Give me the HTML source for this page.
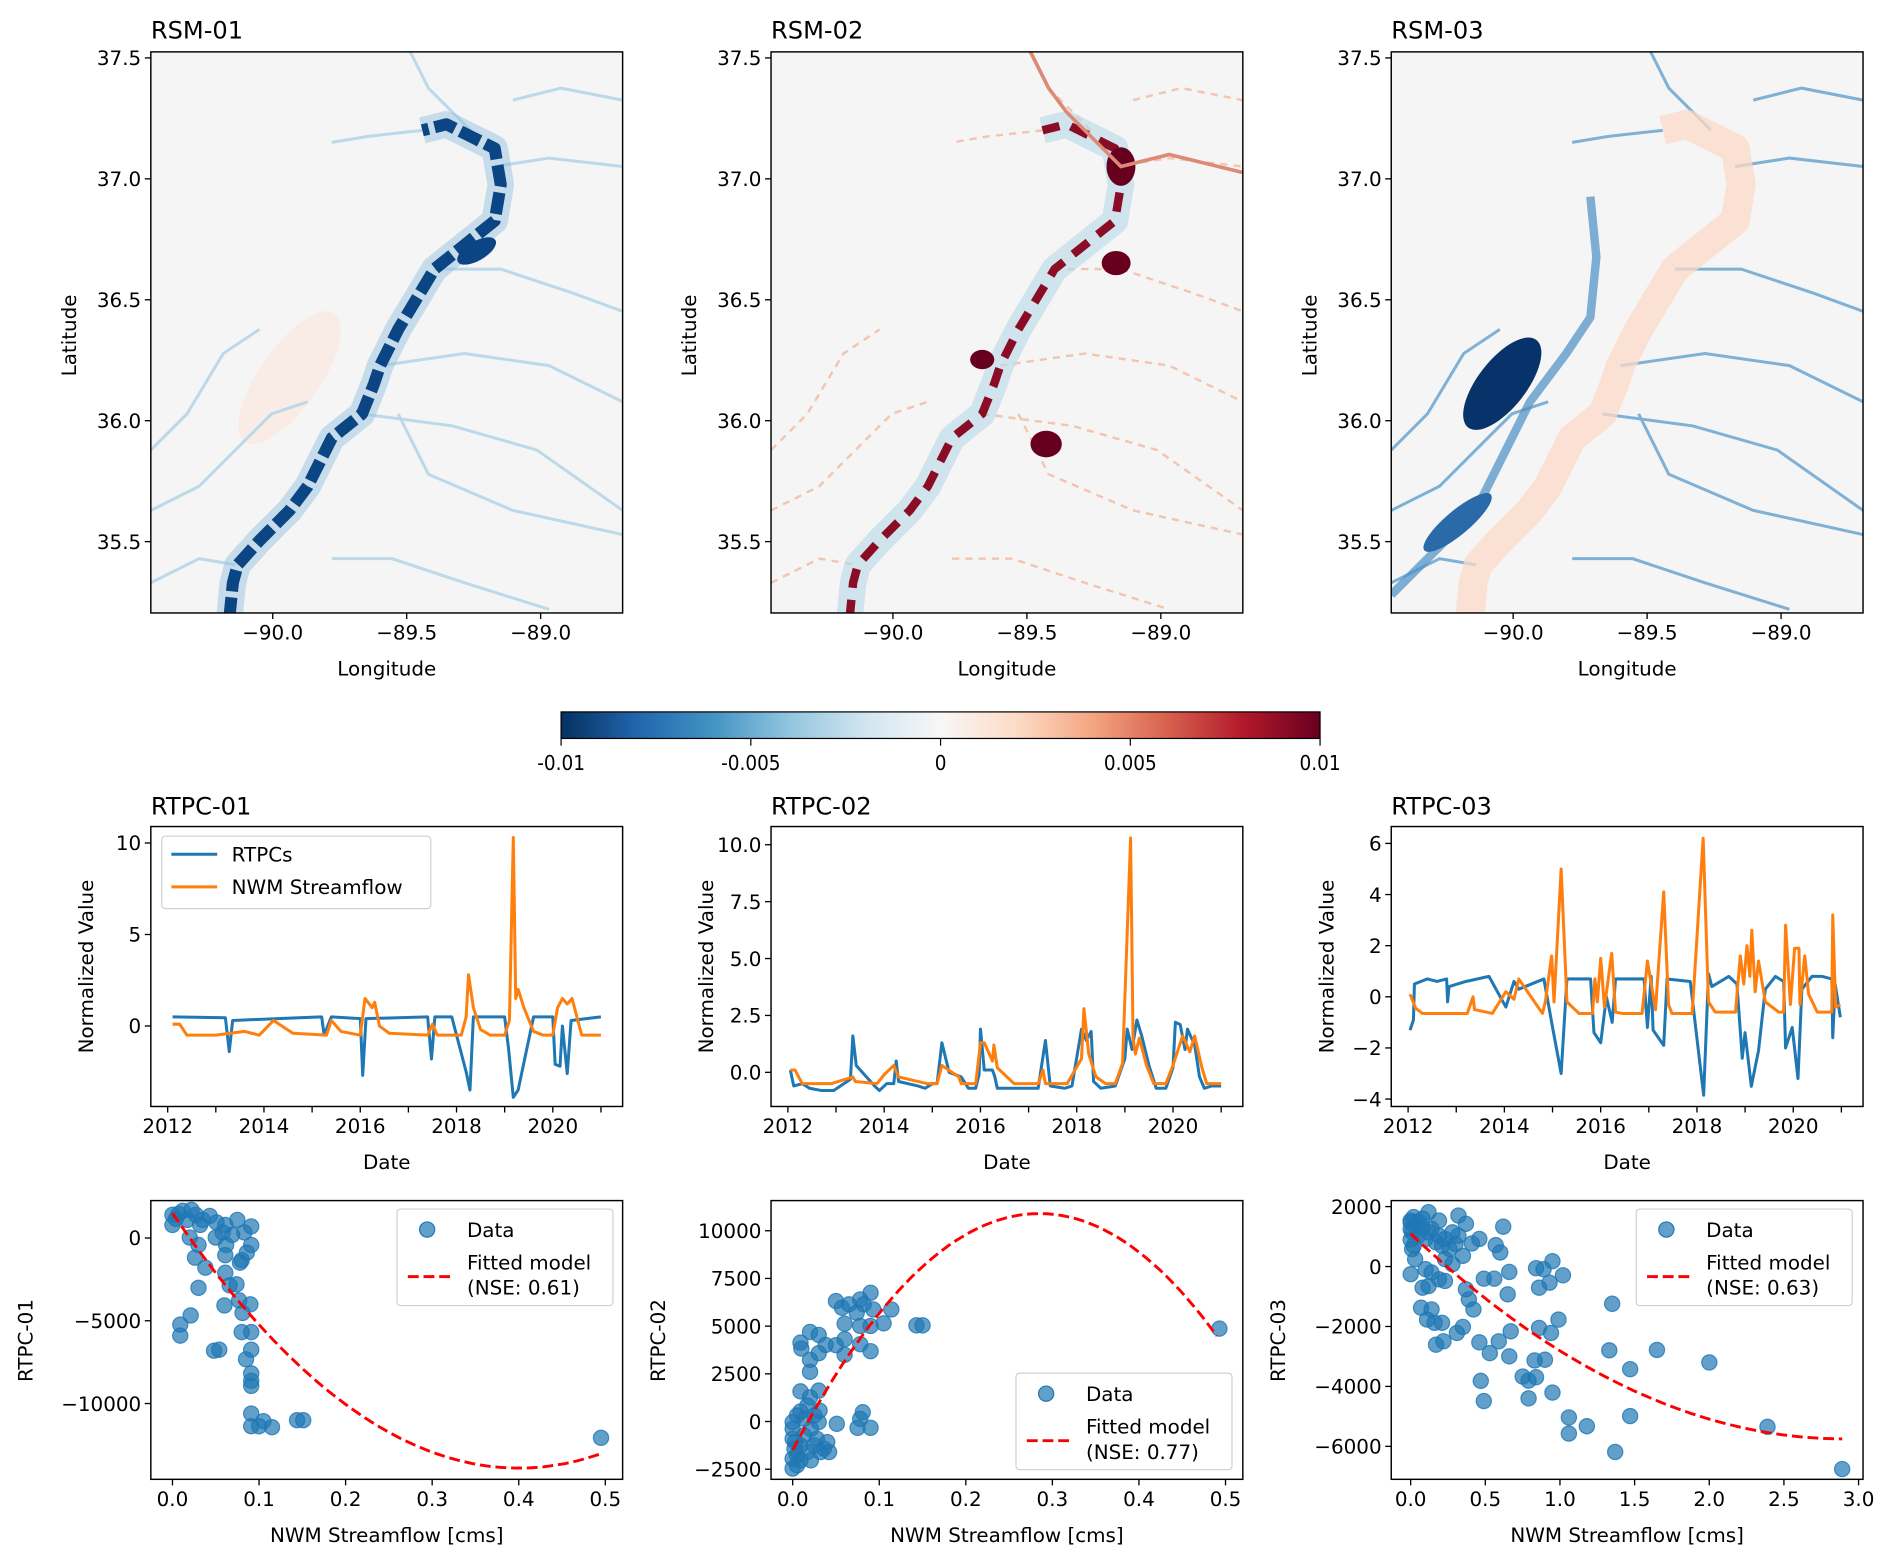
<!DOCTYPE html>
<html><head><meta charset="utf-8"><title>RSM / RTPC figure</title>
<style>
html,body{margin:0;padding:0;background:#fff;}
svg{display:block;}
text{font-family:"DejaVu Sans","Liberation Sans",sans-serif;fill:#000;}
</style></head>
<body>
<svg id="fig" xmlns="http://www.w3.org/2000/svg" width="1892" height="1565" viewBox="0 0 1568 1297" preserveAspectRatio="none">
<defs>
<linearGradient id="rdbu" x1="0" x2="1" y1="0" y2="0">
<stop offset="0" stop-color="#053061"/><stop offset="0.1" stop-color="#2166ac"/><stop offset="0.2" stop-color="#4393c3"/><stop offset="0.3" stop-color="#92c5de"/><stop offset="0.4" stop-color="#d1e5f0"/><stop offset="0.5" stop-color="#f7f7f7"/><stop offset="0.6" stop-color="#fddbc7"/><stop offset="0.7" stop-color="#f4a582"/><stop offset="0.8" stop-color="#d6604d"/><stop offset="0.9" stop-color="#b2182b"/><stop offset="1" stop-color="#67001f"/>
</linearGradient>
<clipPath id="clipMap"><rect x="0" y="0" width="391" height="465"/></clipPath>
</defs>
</svg>
<script>
// ---------------- DATA ----------------
const ts1BlueT = [2012.1,2013.2,2013.28,2013.35,2015.2,2015.25,2015.4,2016.0,2016.05,2016.12,2017.4,2017.48,2017.55,2017.9,2018.2,2018.28,2018.35,2019.0,2019.08,2019.18,2019.28,2019.4,2019.6,2020.0,2020.05,2020.15,2020.2,2020.3,2020.38,2021.0];
const ts1BlueV = [0.5,0.45,-1.4,0.3,0.5,-0.5,0.5,0.4,-2.7,0.4,0.5,-1.8,0.5,0.5,-2.5,-3.5,0.5,0.5,-1.2,-3.9,-3.5,-2.0,0.5,0.5,-2.1,-2.2,0.0,-2.6,0.3,0.5];
const ts1OrangeT = [2012.1,2012.25,2012.4,2013.0,2013.6,2013.9,2014.2,2014.6,2015.3,2015.4,2015.6,2016.0,2016.1,2016.25,2016.3,2016.4,2016.6,2017.4,2017.5,2017.6,2018.1,2018.2,2018.25,2018.35,2018.5,2018.7,2019.0,2019.1,2019.18,2019.23,2019.28,2019.4,2019.6,2019.8,2020.0,2020.1,2020.2,2020.3,2020.4,2020.6,2021.0];
const ts1OrangeV = [0.1,0.1,-0.5,-0.5,-0.3,-0.5,0.3,-0.4,-0.5,0.3,-0.3,-0.5,1.5,1.0,1.3,0.0,-0.4,-0.5,0.1,-0.5,-0.5,0.5,2.8,1.0,-0.2,-0.5,-0.5,0.3,10.3,1.5,2.0,1.0,-0.3,-0.5,-0.5,1.0,1.5,1.2,1.5,-0.5,-0.5];
const ts2BlueT = [2012.05,2012.12,2012.3,2012.45,2012.7,2012.95,2013.3,2013.35,2013.42,2013.8,2013.9,2014.05,2014.2,2014.25,2014.3,2014.7,2014.85,2015.0,2015.1,2015.2,2015.35,2015.6,2015.75,2015.9,2015.97,2016.0,2016.08,2016.25,2016.3,2016.35,2016.9,2017.2,2017.35,2017.45,2017.75,2017.9,2018.1,2018.2,2018.3,2018.35,2018.5,2018.8,2019.0,2019.05,2019.15,2019.25,2019.35,2019.5,2019.65,2019.85,2020.0,2020.05,2020.15,2020.25,2020.3,2020.45,2020.55,2020.65,2020.8,2021.0];
const ts2BlueV = [0.1,-0.6,-0.5,-0.7,-0.8,-0.8,-0.3,1.6,0.3,-0.6,-0.8,-0.5,-0.5,0.5,-0.4,-0.6,-0.7,-0.5,-0.5,1.3,0.0,-0.2,-0.7,-0.7,-0.1,1.9,0.1,0.1,-0.2,-0.7,-0.7,-0.7,1.4,-0.6,-0.7,-0.6,1.9,1.4,1.8,-0.4,-0.7,-0.6,0.6,1.9,1.0,2.3,1.6,0.3,-0.7,-0.7,0.2,2.2,2.1,1.0,1.9,1.2,-0.2,-0.7,-0.6,-0.6];
const ts2OrangeT = [2012.05,2012.15,2012.3,2012.9,2013.35,2013.4,2013.85,2014.0,2014.2,2014.3,2014.9,2015.1,2015.2,2015.55,2015.6,2015.9,2016.0,2016.08,2016.25,2016.28,2016.35,2016.5,2016.7,2017.2,2017.3,2017.35,2017.8,2018.1,2018.15,2018.25,2018.4,2018.6,2018.8,2018.95,2019.12,2019.17,2019.22,2019.3,2019.45,2019.6,2019.85,2020.0,2020.2,2020.35,2020.45,2020.6,2020.7,2021.0];
const ts2OrangeV = [0.1,0.1,-0.5,-0.5,-0.2,-0.4,-0.5,-0.1,0.3,-0.2,-0.5,-0.5,0.3,-0.2,-0.5,-0.5,1.3,1.3,0.5,1.2,0.2,-0.1,-0.5,-0.5,0.1,-0.5,-0.5,0.6,2.8,0.8,-0.2,-0.5,-0.5,0.4,10.3,1.5,0.8,1.5,0.3,-0.5,-0.5,0.3,1.6,0.9,1.6,0.2,-0.5,-0.5];
const ts3BlueT = [2012.04,2012.11,2012.13,2012.4,2012.6,2012.8,2012.82,2012.85,2013.2,2013.68,2014.03,2014.2,2014.3,2014.82,2015.0,2015.18,2015.3,2015.79,2015.86,2016.0,2016.12,2016.24,2016.31,2016.9,2016.97,2017.05,2017.09,2017.31,2017.38,2017.86,2018.14,2018.24,2018.31,2018.66,2018.83,2018.94,2019.0,2019.13,2019.28,2019.42,2019.63,2019.8,2019.84,2019.98,2020.1,2020.18,2020.39,2020.6,2020.8,2020.82,2020.87,2020.98];
const ts3BlueV = [-1.3,-0.9,0.5,0.7,0.6,0.7,-0.2,0.4,0.6,0.8,-0.4,0.6,0.3,0.7,-1.2,-3.0,0.7,0.7,-1.4,-1.8,0.0,-1.0,0.7,0.7,-1.2,0.8,-1.3,-1.9,0.7,0.6,-3.85,0.9,0.4,0.8,0.5,-2.4,-1.4,-3.5,-2.1,0.3,0.8,0.6,-2.0,-1.2,-3.2,0.3,0.8,0.8,0.7,-1.6,0.5,-0.8];
const ts3OrangeT = [2012.04,2012.16,2012.3,2013.23,2013.35,2013.38,2013.75,2014.03,2014.2,2014.3,2014.79,2014.85,2014.98,2015.03,2015.18,2015.3,2015.55,2015.83,2015.88,2015.93,2016.0,2016.08,2016.23,2016.31,2016.45,2016.86,2016.97,2017.14,2017.31,2017.41,2017.48,2017.9,2018.13,2018.24,2018.38,2018.8,2018.9,2018.97,2019.04,2019.1,2019.14,2019.21,2019.28,2019.42,2019.7,2019.8,2019.84,2019.94,2020.03,2020.12,2020.14,2020.24,2020.32,2020.5,2020.8,2020.82,2020.88,2020.98];
const ts3OrangeV = [0.1,-0.45,-0.65,-0.65,0.0,-0.5,-0.65,0.2,-0.1,0.7,-0.65,-0.2,1.6,-0.2,5.0,-0.2,-0.65,-0.65,0.7,-0.2,1.5,-0.4,1.7,-0.6,-0.65,-0.65,1.4,-0.5,4.1,-0.3,-0.65,-0.65,6.2,-0.2,-0.6,-0.6,1.6,0.5,2.0,0.8,2.6,0.2,1.4,-0.2,-0.6,-0.6,2.8,-0.3,1.9,1.9,-0.3,1.6,0.1,-0.6,-0.6,3.2,-0.4,-0.3];
const sc1X = [0,0.012,0.027,0.043,0,0.017,0.032,0.051,0.061,0.075,0.091,0.083,0.069,0.05,0.091,0.086,0.08,0.078,0.062,0.061,0.02,0.03,0.026,0.038,0.03,0.061,0.066,0.074,0.06,0.077,0.09,0.081,0.021,0.009,0.009,0.08,0.091,0.048,0.054,0.091,0.085,0.091,0.091,0.091,0.091,0.091,0.105,0.115,0.1,0.144,0.151,0.495,0.004,0.007,0.022,0.035,0.058];
const sc1Y = [1398,1641,1398,1337,790,1094,790,942,790,1094,699,334,182,30,-426,-882,-1338,-1490,-426,-1034,30,-426,-1186,-1794,-3010,-2098,-2858,-2797,-4074,-3770,-4013,-4530,-4682,-5229,-5898,-5685,-5685,-6810,-6749,-6749,-7326,-8178,-8634,-8938,-10610,-11370,-11066,-11430,-11370,-11005,-11005,-12069,1155,1459,1702,1094,334];
const sc2X = [0.05,0.057,0.065,0.078,0.09,0.082,0.093,0.114,0.105,0.074,0.06,0.078,0.09,0.02,0.03,0.009,0.01,0.038,0.05,0.06,0.078,0.06,0.09,0.03,0.02,0.02,0.143,0.15,0.493,0.009,0.03,0.02,0.009,0.031,0.051,0.081,0.078,0.075,0.09,0,0,0.002,0,0,0.005,0.009,0.013,0.017,0.021,0.025,0.028,0.032,0.036,0.04,0.042,0.03,0.021,0.013,0.005,0.005,0.009,0,0.003,0.025,0.017];
const sc2Y = [6313,5965,6139,6400,6747,6139,5878,5878,5147,5704,5130,5008,5008,4695,4539,4139,3826,4017,4000,4313,4052,3495,3687,3582,3234,2608,5043,5043,4869,1582,1617,1269,522,574,-122,487,139,-330,-330,-2470,-1948,-1426,-904,-383,-1774,-1252,-730,-1600,-2035,-1252,-904,-1600,-1426,-1078,-1600,-35,-383,139,313,-2296,-2035,-35,-1078,313,835];
const sc3X = [0,0.12,0.19,0.32,0.37,0.62,0.46,0.41,0.57,0.6,0,0.08,0.07,0.14,0.11,0.16,0.21,0.17,0.22,0.31,0.35,0.42,0.46,0.53,0.59,0.67,0.66,0.65,0.66,0.56,0.49,0.84,0.89,0.95,1.02,0.93,0.86,0.99,0.86,0.94,0.83,0.9,0.75,0.79,0.84,0.47,0.49,0.79,0.95,1.06,1.06,1.18,1.47,1.33,1.35,1.65,2.0,1.47,1.37,2.39,2.89,0,0,0.01,0.03,0.05,0.08,0.1,0.12,0.14,0.17,0.19,0.21,0.23,0.26,0.28,0.3,0.32,0.35,0.23,0.28,0.01,0.03,0.1,0.14,0.19,0.23,0.12,0.37,0.39,0.02,0.05,0.08,0,0.02];
const sc3Y = [1477,1813,1533,1701,1421,1332,918,772,716,470,-257,-705,-1376,-1432,-1768,-1880,-1880,-2607,-2495,-2216,-2014,-1432,-2529,-2887,-2495,-2160,-2999,-929,-179,-403,-403,-56,-90,179,-291,-537,-705,-1768,-2048,-2216,-3133,-3111,-3670,-3805,-3693,-3816,-4487,-4398,-4207,-5036,-5573,-5327,-3424,-2798,-1242,-2786,-3200,-4991,-6188,-5349,-6759,1530,1250,1140,1365,1030,1310,918,1141,1253,806,1029,694,918,582,1141,750,1029,358,246,78,582,246,-90,-201,-425,-481,-649,-761,-1097,1650,1500,1600,900,700];
const fit1 = {a:96250, h:0.4, k:-13900, x0:0, x1:0.495};
const fit2 = {a:-152700, h:0.285, k:10900, x0:0, x1:0.49};
const fit3 = {a:814, h:2.9, k:-5750, x0:0, x1:2.89};
const lonTicks = [-90.0,-89.5,-89.0];
const latTicks = [37.5,37.0,36.5,36.0,35.5];
const yearTicks = [2012,2014,2016,2018,2020];
const yearMinor = [2013,2015,2017,2019,2021];
const ts1YTicks = [10,5,0];
const ts2YTicks = [10.0,7.5,5.0,2.5,0.0];
const ts3YTicks = [6,4,2,0,-2,-4];
const sc1XTicks = [0.0,0.1,0.2,0.3,0.4,0.5];
const sc1YTicks = [0,-5000,-10000];
const sc2YTicks = [10000,7500,5000,2500,0,-2500];
const sc3XTicks = [0.0,0.5,1.0,1.5,2.0,2.5,3.0];
const sc3YTicks = [2000,0,-2000,-4000,-6000];
const cbTicks = [-0.01,-0.005,0,0.005,0.01];
const cbLabels = ["-0.01","-0.005","0","0.005","0.01"];

// ---------------- HELPERS ----------------
const NS = "http://www.w3.org/2000/svg";
const svg = document.getElementById('fig');
const TICK_FS = 16.5, LABEL_FS = 16.5, TITLE_FS = 20, LEG_FS = 16.5;
function mk(tag, attrs, parent){
  const e = document.createElementNS(NS, tag);
  for (const k in attrs) e.setAttribute(k, attrs[k]);
  (parent||svg).appendChild(e);
  return e;
}
function tx(x,y,s,size,anchor,parent,extra){
  const t = mk('text',Object.assign({x:x,y:y,'font-size':size,'text-anchor':anchor||'middle'},extra||{}),parent);
  t.textContent = s;
  return t;
}
function fmt(v,dec){ const s = Math.abs(v).toFixed(dec); return (v<0?'\u2212':'')+s; }
function scale(d0,d1,r0,r1){ return v => r0 + (v-d0)/(d1-d0)*(r1-r0); }

function frame(g,x0,y0,w,h){
  const r = mk('rect',{x:x0,y:y0,width:w,height:h,fill:'none',stroke:'#000','stroke-width':1.2},g);
  
  
}
function xTicks(g,vals,sx,yb,labels,minor){
  vals.forEach((v,i)=>{
    const x = sx(v);
    const l = mk('line',{x1:x,x2:x,y1:yb,y2:yb+5,stroke:'#000','stroke-width':1.1},g);
    
    
    const t = tx(x,yb+22,labels[i],TICK_FS,'middle',g);
    
    
  });
  (minor||[]).forEach(v=>{
    const x = sx(v);
    const l = mk('line',{x1:x,x2:x,y1:yb,y2:yb+5,stroke:'#000','stroke-width':1.1},g);
    
    
  });
}
function yTicks(g,vals,sy,xl,labels){
  vals.forEach((v,i)=>{
    const y = sy(v);
    const l = mk('line',{x1:xl-5,x2:xl,y1:y,y2:y,stroke:'#000','stroke-width':1.1},g);
    
    
    const t = tx(xl-8,y+6,labels[i],TICK_FS,'end',g);
    
    
  });
}
function title(g,x,y,s){
  const t = tx(x,y,s,TITLE_FS,'start',g);
  
  
}
function xlabel(g,x,y,s){
  const t = tx(x,y,s,LABEL_FS,'middle',g);
  
  
}
function ylabel(g,x,y,s){
  const t = tx(x,y,s,LABEL_FS,'middle',g,{transform:'rotate(-90 '+x+' '+y+')'});
  
  
}

// ---------------- MAPS ----------------
const mapX = [125,639,1153];
const mapY = 43, mapW = 391, mapH = 465;
const mapTitles = ["RSM-01","RSM-02","RSM-03"];
const mainRiver = "M65,470 L68,440 L72,425 L90,405 L115,380 L130,360 L135,350 L150,320 L175,300 L185,275 L190,260 L205,230 L220,205 L235,180 L260,160 L285,140 L290,110 L285,80 L265,70 L245,60 L225,65";
const tribs = [
 "M0,380 L40,360 L70,330 L100,300 L130,290",
 "M175,300 L250,310 L320,330 L391,380",
 "M190,260 L260,250 L330,260 L391,290",
 "M150,420 L200,420 L260,440 L330,462",
 "M285,95 L330,88 L391,95",
 "M265,65 L230,30 L215,0",
 "M225,65 L180,70 L150,75",
 "M0,330 L30,300 L60,250 L90,230",
 "M235,180 L290,180 L350,200 L391,215",
 "M205,300 L230,350 L300,380 L391,400",
 "M0,440 L40,420 L70,425",
 "M300,40 L340,30 L391,40"
];
mapX.forEach((mx,i)=>{
  const g = mk('g',{transform:'translate('+mx+','+mapY+')'});
  
  
  const clip = mk('g',{'clip-path':'url(#clipMap)'},g);
  const bg = mk('rect',{x:0,y:0,width:mapW,height:mapH,fill:'#f5f5f5'},clip);
  
  
  if(i===0){
    mk('ellipse',{cx:115,cy:270,rx:25,ry:65,fill:'#fbe6dc',transform:'rotate(35 115 270)',opacity:0.6},clip);
    tribs.forEach(d=>mk('path',{d:d,fill:'none',stroke:'#bcd9ea','stroke-width':2.5,'stroke-linejoin':'round'},clip));
    mk('path',{d:mainRiver,fill:'none',stroke:'#8dbedd','stroke-width':22,'stroke-linejoin':'round',opacity:0.45},clip);
    const r = mk('path',{d:mainRiver,fill:'none',stroke:'#0b4584','stroke-width':10,'stroke-linejoin':'round','stroke-dasharray':'18 5'},clip);
    
    
    mk('ellipse',{cx:270,cy:165,rx:18,ry:8,fill:'#0b4584',transform:'rotate(-30 270 165)'},clip);
  } else if(i===1){
    tribs.forEach(d=>mk('path',{d:d,fill:'none',stroke:'#f3c4b0','stroke-width':2,'stroke-dasharray':'6 5'},clip));
    mk('path',{d:mainRiver,fill:'none',stroke:'#b8d8ea','stroke-width':22,'stroke-linejoin':'round',opacity:0.6},clip);
    const r = mk('path',{d:mainRiver,fill:'none',stroke:'#8a0c25','stroke-width':7,'stroke-linejoin':'round','stroke-dasharray':'16 10'},clip);
    
    
    mk('ellipse',{cx:228,cy:325,rx:13,ry:11,fill:'#67001f'},clip);
    mk('ellipse',{cx:286,cy:175,rx:12,ry:10,fill:'#67001f'},clip);
    mk('ellipse',{cx:290,cy:95,rx:12,ry:16,fill:'#67001f'},clip);
    mk('path',{d:"M215,0 L230,30 L245,50 L265,70 L290,95 L330,85 L391,100",fill:'none',stroke:'#dc8a76','stroke-width':3},clip);
    mk('ellipse',{cx:175,cy:255,rx:10,ry:8,fill:'#67001f'},clip);
  } else {
    tribs.forEach(d=>mk('path',{d:d,fill:'none',stroke:'#7fb1d6','stroke-width':2.5},clip));
    mk('path',{d:mainRiver,fill:'none',stroke:'#fbd9c8','stroke-width':24,'stroke-linejoin':'round',opacity:0.75},clip);
    mk('path',{d:"M0,450 L40,410 L70,380 L95,330 L115,290 L145,250 L165,220 L170,170 L165,120",fill:'none',stroke:'#4a8fc4','stroke-width':7,opacity:0.7},clip);
    const b = mk('ellipse',{cx:92,cy:275,rx:20,ry:46,fill:'#08326a',transform:'rotate(38 92 275)'},clip);
    
    
    mk('ellipse',{cx:55,cy:390,rx:10,ry:36,fill:'#2a6aa8',transform:'rotate(50 55 390)'},clip);
  }
  frame(g,0,0,mapW,mapH);
  const sx = scale(-90.455,-88.694,0,mapW);
  const sy = scale(37.525,35.205,0,mapH);
  xTicks(g,lonTicks,sx,mapH,lonTicks.map(v=>fmt(v,1)));
  yTicks(g,latTicks,sy,0,latTicks.map(v=>fmt(v,1)));
  title(g,0,-11,mapTitles[i]);
  xlabel(g,mapW/2,517,'Longitude');
  ylabel(g,-62,235,'Latitude');
});

// ---------------- COLORBAR ----------------
(function(){
  const g = mk('g',{});
  
  
  const cx0=465, cx1=1094, cy=590, ch=22;
  const r = mk('rect',{x:cx0,y:cy,width:cx1-cx0,height:ch,fill:'url(#rdbu)',stroke:'#000','stroke-width':1},g);
  
  
  const sx = scale(-0.01,0.01,cx0,cx1);
  cbTicks.forEach((v,i)=>{
    const x = sx(v);
    mk('line',{x1:x,x2:x,y1:cy+ch,y2:cy+ch+6,stroke:'#000','stroke-width':1},g);
    const t = tx(x,cy+ch+26,cbLabels[i],17,'middle',g,{style:'font-family:"DejaVu Sans Condensed","Liberation Sans Narrow","Liberation Sans",sans-serif'});
    
    
  });
})();

// ---------------- TIME SERIES ----------------
const tsY0 = 685, tsH = 232, panelW = 391;
const tsPanels = [
  {x:125, title:'RTPC-01', ymin:-4.4, ymax:10.9, yt:ts1YTicks, dec:0, bT:ts1BlueT, bV:ts1BlueV, oT:ts1OrangeT, oV:ts1OrangeV, legend:true},
  {x:639, title:'RTPC-02', ymin:-1.5, ymax:10.8, yt:ts2YTicks, dec:1, bT:ts2BlueT, bV:ts2BlueV, oT:ts2OrangeT, oV:ts2OrangeV, legend:false},
  {x:1153, title:'RTPC-03', ymin:-4.29, ymax:6.66, yt:ts3YTicks, dec:0, bT:ts3BlueT, bV:ts3BlueV, oT:ts3OrangeT, oV:ts3OrangeV, legend:false}
];
tsPanels.forEach((p,i)=>{
  const g = mk('g',{transform:'translate('+p.x+','+tsY0+')'});
  
  
  const sx = scale(2011.65,2021.45,0,panelW);
  const sy = scale(p.ymax,p.ymin,0,tsH);
  const bd = p.bT.map((t,k)=>sx(t).toFixed(1)+','+sy(p.bV[k]).toFixed(1)).join(' ');
  const bl = mk('polyline',{points:bd,fill:'none',stroke:'#1f77b4','stroke-width':2.5,'stroke-linejoin':'round'},g);
  
  
  const od = p.oT.map((t,k)=>sx(t).toFixed(1)+','+sy(p.oV[k]).toFixed(1)).join(' ');
  const ol = mk('polyline',{points:od,fill:'none',stroke:'#ff7f0e','stroke-width':2.5,'stroke-linejoin':'round'},g);
  
  
  frame(g,0,0,panelW,tsH);
  xTicks(g,yearTicks,sx,tsH,yearTicks.map(String),yearMinor);
  yTicks(g,p.yt,sy,0,p.yt.map(v=>fmt(v,p.dec)));
  title(g,0,-10,p.title);
  xlabel(g,panelW/2,284,'Date');
  ylabel(g,-48,116,'Normalized Value');
  if(p.legend){
    const lg = mk('g',{},g);
    
    
    mk('rect',{x:9,y:8,width:223,height:60,rx:3,fill:'#fff',stroke:'#d0d0d0','stroke-width':1},lg);
    mk('line',{x1:17,x2:55,y1:23,y2:23,stroke:'#1f77b4','stroke-width':2.5},lg);
    const t1 = tx(67,29,'RTPCs',LEG_FS,'start',lg);
    
    
    mk('line',{x1:17,x2:55,y1:50,y2:50,stroke:'#ff7f0e','stroke-width':2.5},lg);
    const t2 = tx(67,56,'NWM Streamflow',LEG_FS,'start',lg);
    
    
  }
});

// ---------------- SCATTER ----------------
const scY0 = 995, scH = 231;
const scPanels = [
  {x:125, ylab:'RTPC-01', xmin:-0.025, xmax:0.52, ymin:-14580, ymax:2260, xt:sc1XTicks, xdec:1, yt:sc1YTicks, X:sc1X, Y:sc1Y, fit:fit1, nse:'0.61', leg:{x:204,y:7}, ylx:-98},
  {x:639, ylab:'RTPC-02', xmin:-0.025, xmax:0.52, ymin:-3030, ymax:11580, xt:sc1XTicks, xdec:1, yt:sc2YTicks, X:sc2X, Y:sc2Y, fit:fit2, nse:'0.77', leg:{x:203,y:143}, ylx:-88},
  {x:1153, ylab:'RTPC-03', xmin:-0.13, xmax:3.03, ymin:-7100, ymax:2200, xt:sc3XTicks, xdec:1, yt:sc3YTicks, X:sc3X, Y:sc3Y, fit:fit3, nse:'0.63', leg:{x:203,y:7}, ylx:-88}
];
scPanels.forEach((p,i)=>{
  const g = mk('g',{transform:'translate('+p.x+','+scY0+')'});
  
  
  const sx = scale(p.xmin,p.xmax,0,panelW);
  const sy = scale(p.ymax,p.ymin,0,scH);
  p.X.forEach((xv,k)=>{
    const c = mk('circle',{cx:sx(xv).toFixed(1),cy:sy(p.Y[k]).toFixed(1),r:6.3,fill:'#1f77b4','fill-opacity':0.7,stroke:'#1f77b4','stroke-opacity':0.8,'stroke-width':1},g);
    
    
  });
  const f = p.fit, pts=[];
  for(let s=0;s<=60;s++){
    const xv = f.x0 + (f.x1-f.x0)*s/60;
    const yv = f.a*(xv-f.h)*(xv-f.h)+f.k;
    pts.push(sx(xv).toFixed(1)+','+sy(yv).toFixed(1));
  }
  const fl = mk('polyline',{points:pts.join(' '),fill:'none',stroke:'#ff0000','stroke-width':2.4,'stroke-dasharray':'9 4'},g);
  
  
  frame(g,0,0,panelW,scH);
  xTicks(g,p.xt,sx,scH,p.xt.map(v=>fmt(v,p.xdec)));
  yTicks(g,p.yt,sy,0,p.yt.map(v=>fmt(v,0)));
  xlabel(g,panelW/2,283,'NWM Streamflow [cms]');
  ylabel(g,p.ylx,116,p.ylab);
  const lg = mk('g',{transform:'translate('+p.leg.x+','+p.leg.y+')'},g);
  
  
  mk('rect',{x:0,y:0,width:179,height:80,rx:3,fill:'#fff',stroke:'#d0d0d0','stroke-width':1},lg);
  mk('circle',{cx:25,cy:17,r:6.3,fill:'#1f77b4','fill-opacity':0.7,stroke:'#1f77b4'},lg);
  const t1 = tx(58,23,'Data',LEG_FS,'start',lg);
  
  
  mk('line',{x1:9,x2:45,y1:56,y2:56,stroke:'#ff0000','stroke-width':2.4,'stroke-dasharray':'9 4'},lg);
  const t2 = tx(58,50,'Fitted model',LEG_FS,'start',lg);
  
  
  const t3 = tx(58,71,'(NSE: '+p.nse+')',LEG_FS,'start',lg);
  
  
});
</script>
</body></html>
